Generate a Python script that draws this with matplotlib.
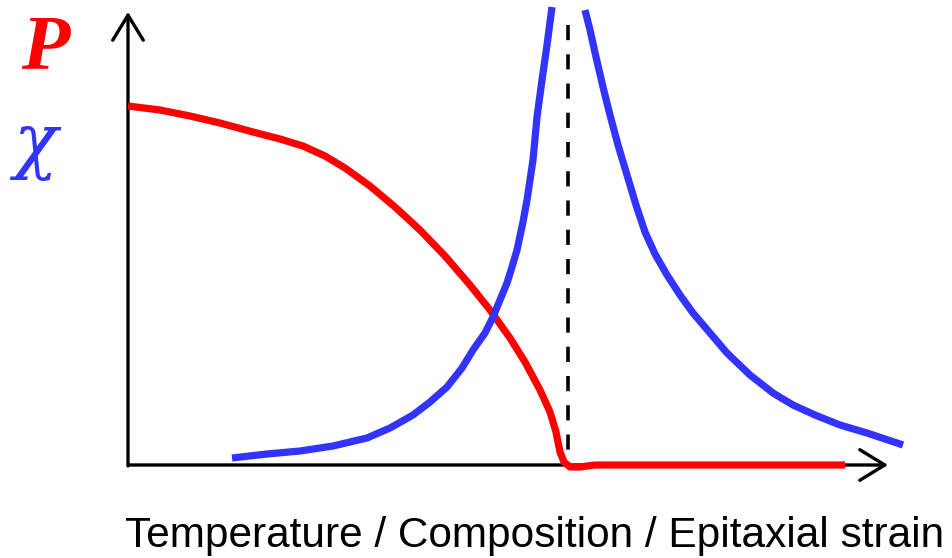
import matplotlib.pyplot as plt

# curve points (pixel positions, y downwards)
p_x = [128, 160, 190, 220, 253, 280, 303, 325, 345, 370, 395, 420, 445, 470, 490, 510,
       525, 540, 550, 556, 560, 564, 570, 580, 595, 620, 700, 845]
p_y = [106, 110, 116, 123, 132, 139, 146, 156, 168, 186, 207, 230, 256, 285, 310, 338,
       362, 390, 412, 432, 452, 462, 467, 467, 465, 465, 465, 465]

chi_left_x = [232, 267, 300, 333, 367, 390, 413, 430, 447, 462, 473, 485, 493, 500, 507,
              512, 517, 523, 527, 533, 537, 542, 547, 552]
chi_left_y = [458, 454, 451, 446, 438, 428, 415, 402, 387, 368, 350, 333, 317, 300, 283,
              267, 250, 222, 200, 160, 117, 80, 45, 7]
chi_right_x = [585, 590, 596, 603, 610, 618, 627, 636, 645, 655, 667, 680, 693, 710, 727,
               750, 773, 793, 815, 840, 867, 903]
chi_right_y = [10, 30, 57, 87, 115, 145, 175, 205, 232, 254, 275, 295, 313, 333, 353,
               375, 393, 405, 415, 425, 433, 445]

transition_x = 568
x_label = "Temperature / Composition / Epitaxial strain"

fig = plt.figure(figsize=(9.53, 5.58), dpi=100)
ax = fig.add_axes([0, 0, 1, 1])
ax.set_xlim(0, 953)
ax.set_ylim(558, 0)
ax.axis("off")

# axes with open arrow heads
arrow = dict(arrowstyle="->,head_length=0.9,head_width=0.55", lw=2.4, color="black",
             shrinkA=0, shrinkB=0, mutation_scale=20)
ax.annotate("", xy=(128, 12), xytext=(128, 466), arrowprops=arrow)
ax.annotate("", xy=(888, 465), xytext=(130, 465), arrowprops=arrow)

# critical point
ax.plot([transition_x, transition_x], [25, 462], color="black", lw=2.6,
        dashes=(4.2, 3.9))

style = dict(lw=5.2, solid_capstyle="butt", solid_joinstyle="round", zorder=5)
ax.plot(p_x, p_y, color="#ff0000", **style)
ax.plot(chi_left_x, chi_left_y, color="#3333ff", **style)
ax.plot(chi_right_x, chi_right_y, color="#3333ff", **style)

ax.text(45, 50, "P", color="#ff0000", fontsize=57, fontweight="bold", fontstyle="italic",
        family="Liberation Serif", ha="center", va="center")
ax.text(35, 146, "χ", color="#3333ff", fontsize=52, fontstyle="italic",
        family="DejaVu Serif", ha="center", va="center")

ax.text(535, 536, x_label, fontsize=30.5, family="Liberation Sans", ha="center", va="center")

fig.savefig("out.png", dpi=100)
